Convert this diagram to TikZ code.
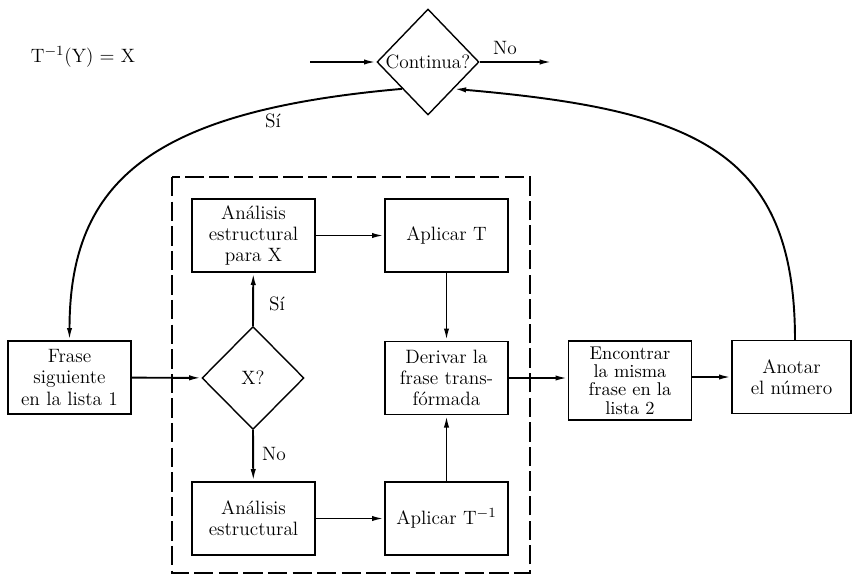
\documentclass[tikz,border=0pt]{standalone}
\usepackage{tikz}
\usetikzlibrary{shapes.geometric, arrows.meta}

\tikzset{
  caja/.style={draw, line width=0.8pt, minimum width=2.46cm, minimum height=1.46cm,
    inner sep=1pt, align=center, font=\fontsize{11}{12}\selectfont},
  decision/.style={draw, diamond, line width=0.8pt, inner sep=0pt, aspect=1,
    font=\fontsize{11}{12}\selectfont},
  flecha/.style={-{Latex[length=7pt,width=3pt]}, line width=1.1pt},
  etiqueta/.style={font=\fontsize{11}{12}\selectfont},
  marco/.style={line width=0.8pt, dash pattern=on 11pt off 3pt}
}

\begin{document}
\begin{tikzpicture}[x=0.02cm, y=-0.02cm]
  \useasboundingbox (0,0) rectangle (852,575);
  \draw[marco] (172,177) rectangle (530,573); %recuadro

  \node[etiqueta] (formula) at (83,57) {T$^{-1}$(Y) $=$ X};
  \node[decision, minimum width=2.04cm, minimum height=2.12cm] (cont) at (428,62) {\makebox[0pt]{Continua?}};
  \coordinate (entrada) at (310,62);
  \coordinate (salida) at (552,62);

  \node[caja] (frase) at (69.5,377.5) {Frase\\siguiente\\en la lista 1};
  \node[decision, minimum width=2.04cm, minimum height=2.06cm] (xq) at (253,378) {X?};
  \node[caja] (analx) at (253.5,235.5) {Análisis\\estructural\\para X};
  \node[caja] (anal) at (253.5,518.5) {Análisis\\estructural};
  \node[caja] (aplt) at (446.5,235.5) {Aplicar T};
  \node[caja] (aplti) at (446.5,518.5) {Aplicar T$^{-1}$};
  \node[caja] (deriv) at (446.5,378) {Derivar la\\frase trans-\\fórmada};
  \node[caja, minimum height=1.58cm, font=\fontsize{10.5}{10.5}\selectfont] (encont) at (630,380.5)
    {Encontrar\\la misma\\frase en la\\lista 2};
  \node[caja, minimum width=2.38cm] (anot) at (791.5,377) {Anotar\\el número};

  \draw[flecha] (entrada) -- (cont.west);
  \draw[flecha] (cont.east) -- (salida);
  \node[etiqueta] (no1) at (505,48) {No};

  \draw[flecha] (frase) -- (xq);
  \draw[flecha] (xq.north) -- (analx);
  \draw[flecha] (xq.south) -- (anal);
  \node[etiqueta] (si2) at (277,304) {Sí};
  \node[etiqueta] (no2) at (274,454) {No};
  \draw[flecha] (analx) -- (aplt);
  \draw[flecha] (anal) -- (aplti);
  \draw[flecha] (aplt) -- (deriv);
  \draw[flecha] (aplti) -- (deriv);
  \draw[flecha] (deriv) -- (deriv -| encont.west);
  \draw[flecha] (encont.east |- anot) -- (anot);

  \draw[flecha] (cont.south west) .. controls +(-250,22) and +(0,-160) .. (frase.north); %Si
  \node[etiqueta] (si1) at (273,121) {Sí};
  \draw[flecha] (anot.north -| 795,0) .. controls +(0,-190) and +(240,21) .. (cont.south east); %vuelta
\end{tikzpicture}
\end{document}
